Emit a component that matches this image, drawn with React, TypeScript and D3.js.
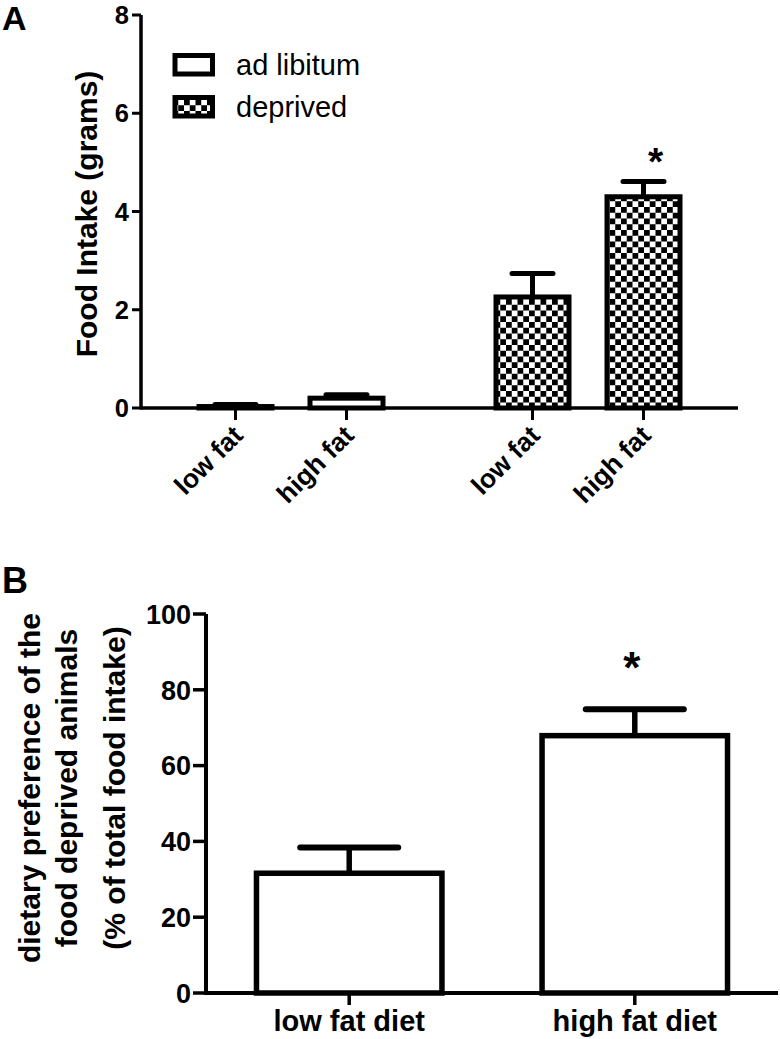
import React from "react";
import * as d3 from "d3";

// ---------- Data ----------
const A_GROUPS = ["ad libitum", "deprived"];
const A_CATEGORIES = ["low fat", "high fat"];
const A_ADLIB_MEANS = [0.03, 0.2];
const A_ADLIB_SEM = [0.04, 0.07];
const A_DEPRIVED_MEANS = [2.26, 4.3];
const A_DEPRIVED_SEM = [0.48, 0.31];
const A_Y_TICKS = [0, 2, 4, 6, 8];
const A_Y_TITLE = "Food Intake (grams)";
const A_SIG = [false, false, false, true];

const B_CATEGORIES = ["low fat diet", "high fat diet"];
const B_MEANS = [31.6, 67.9];
const B_SEM = [6.8, 7.0];
const B_Y_TICKS = [0, 20, 40, 60, 80, 100];
const B_Y_TITLE = ["dietary preference of the", "food deprived animals", "(% of total food intake)"];
const B_SIG = [false, true];

const FONT = "'Liberation Sans', Arial, Helvetica, sans-serif";

export default function App() {
  // ---------- Panel A scales ----------
  const aX0 = 141, aX1 = 738, aY0 = 408, aY1 = 15;
  const aY = d3.scaleLinear().domain([0, 8]).range([aY0, aY1]);
  const aGroup = d3.scalePoint<string>().domain(A_GROUPS).range([aX0, aX1]).padding(0.505);
  const aInner = d3.scalePoint<string>().domain(A_CATEGORIES).range([-55.5, 55.5]);
  const aBarW = 73;
  const aCapW = 41;

  const aBars = [
    ...A_CATEGORIES.map((c, i) => ({ group: A_GROUPS[0], cat: c, mean: A_ADLIB_MEANS[i], sem: A_ADLIB_SEM[i] })),
    ...A_CATEGORIES.map((c, i) => ({ group: A_GROUPS[1], cat: c, mean: A_DEPRIVED_MEANS[i], sem: A_DEPRIVED_SEM[i] })),
  ].map((d, i) => ({ ...d, x: (aGroup(d.group) as number) + (aInner(d.cat) as number), sig: A_SIG[i] }));

  // ---------- Panel B scales ----------
  const bX0 = 206, bX1 = 778, bY0 = 993, bY1 = 614;
  const bY = d3.scaleLinear().domain([0, 100]).range([bY0, bY1]);
  const bX = d3.scaleBand<string>().domain(B_CATEGORIES).range([bX0, bX1]).paddingInner(0.333).paddingOuter(0.168);
  const bBarW = bX.bandwidth() - 5;
  const bCapW = 98;

  return (
    <svg
      width={780}
      height={1039}
      style={{ position: "absolute", left: 0, top: 0, background: "#fff" }}
      fontFamily={FONT}
    >
      <defs>
        <pattern id="checker" patternUnits="userSpaceOnUse" width={11.5} height={11.5}>
          <rect width={11.5} height={11.5} fill="#fff" />
          <rect x={0} y={0} width={5.75} height={5.75} fill="#000" />
          <rect x={5.75} y={5.75} width={5.75} height={5.75} fill="#000" />
        </pattern>
      </defs>
      <rect width={780} height={1039} fill="#fff" />

      {/* ================= Panel A ================= */}
      <text x={2} y={30} fontSize={34} fontWeight="bold">A</text>

      {/* bars */}
      {aBars.map((d, i) => {
        const top = aY(d.mean);
        const cap = aY(d.mean + d.sem);
        return (
          <g key={"ab" + i}>
            <line x1={d.x} x2={d.x} y1={top} y2={cap} stroke="#000" strokeWidth={5} />
            <line x1={d.x - aCapW / 2} x2={d.x + aCapW / 2} y1={cap} y2={cap} stroke="#000" strokeWidth={5} strokeLinecap="round" />
            <rect
              x={d.x - aBarW / 2}
              y={top}
              width={aBarW}
              height={aY0 - top}
              fill={d.group === A_GROUPS[1] ? "url(#checker)" : "#fff"}
              stroke="#000"
              strokeWidth={5}
            />
            {d.sig && (
              <text x={d.x + 12} y={aY(d.mean + d.sem) - 7} fontSize={39} fontWeight="bold" textAnchor="middle">*</text>
            )}
          </g>
        );
      })}

      {/* axes A */}
      <line x1={aX0} x2={aX0} y1={aY1} y2={aY0 + 1.5} stroke="#000" strokeWidth={3.5} />
      <line x1={aX0} x2={aX1} y1={aY0} y2={aY0} stroke="#000" strokeWidth={3.5} />
      {A_Y_TICKS.map((t) => (
        <g key={"ayt" + t}>
          <line x1={aX0 - 9} x2={aX0} y1={aY(t)} y2={aY(t)} stroke="#000" strokeWidth={3} />
          <text x={129} y={aY(t)} dy="0.36em" fontSize={25.5} fontWeight="bold" textAnchor="end">{t}</text>
        </g>
      ))}
      {aBars.map((d, i) => (
        <g key={"axt" + i}>
          <line x1={d.x} x2={d.x} y1={aY0} y2={aY0 + 12} stroke="#000" strokeWidth={3} />
          <text
            transform={`translate(${d.x + 9},${aY0 + 29}) rotate(-45)`}
            fontSize={26.5}
            fontWeight="bold"
            textAnchor="end"
          >
            {d.cat}
          </text>
        </g>
      ))}
      <text transform={`translate(97,214) rotate(-90)`} fontSize={30} fontWeight="bold" textAnchor="middle">
        {A_Y_TITLE}
      </text>

      {/* legend A */}
      {A_GROUPS.map((g, i) => (
        <g key={"leg" + g} transform={`translate(0,${i * 42})`}>
          <rect x={175} y={55.5} width={37.5} height={18.5} fill={i === 1 ? "url(#checker)" : "#fff"} stroke="#000" strokeWidth={5} />
          <text x={236} y={75} fontSize={29}>{g}</text>
        </g>
      ))}

      {/* ================= Panel B ================= */}
      <text x={2} y={593} fontSize={36} fontWeight="bold">B</text>

      {B_CATEGORIES.map((c, i) => {
        const cx = (bX(c) as number) + bX.bandwidth() / 2;
        const top = bY(B_MEANS[i]);
        const cap = bY(B_MEANS[i] + B_SEM[i]);
        return (
          <g key={"bb" + c}>
            <line x1={cx} x2={cx} y1={top} y2={cap} stroke="#000" strokeWidth={5.5} />
            <line x1={cx - bCapW / 2} x2={cx + bCapW / 2} y1={cap} y2={cap} stroke="#000" strokeWidth={6} strokeLinecap="round" />
            <rect x={cx - bBarW / 2} y={top} width={bBarW} height={bY0 - top} fill="#fff" stroke="#000" strokeWidth={5.5} />
            {B_SIG[i] && (
              <text x={cx - 3} y={cap - 26} fontSize={44} fontWeight="bold" textAnchor="middle">*</text>
            )}
          </g>
        );
      })}

      <line x1={bX0} x2={bX0} y1={bY1} y2={bY0 + 2} stroke="#000" strokeWidth={4} />
      <line x1={bX0} x2={bX1} y1={bY0} y2={bY0} stroke="#000" strokeWidth={4} />
      {B_Y_TICKS.map((t) => (
        <g key={"byt" + t}>
          <line x1={bX0 - 13} x2={bX0} y1={bY(t)} y2={bY(t)} stroke="#000" strokeWidth={3.5} />
          <text x={191} y={bY(t)} dy="0.36em" fontSize={27} fontWeight="bold" textAnchor="end">{t}</text>
        </g>
      ))}
      {B_CATEGORIES.map((c) => {
        const cx = (bX(c) as number) + bX.bandwidth() / 2;
        return (
          <g key={"bxt" + c}>
            <line x1={cx} x2={cx} y1={bY0} y2={bY0 + 12} stroke="#000" strokeWidth={3.5} />
            <text x={cx} y={1031} fontSize={29} fontWeight="bold" textAnchor="middle">{c}</text>
          </g>
        );
      })}
      {B_Y_TITLE.map((line, i) => (
        <text
          key={"bt" + i}
          transform={`translate(${[40, 77, 125][i]},788) rotate(-90)`}
          fontSize={30}
          fontWeight="bold"
          textAnchor="middle"
        >
          {line}
        </text>
      ))}
    </svg>
  );
}
